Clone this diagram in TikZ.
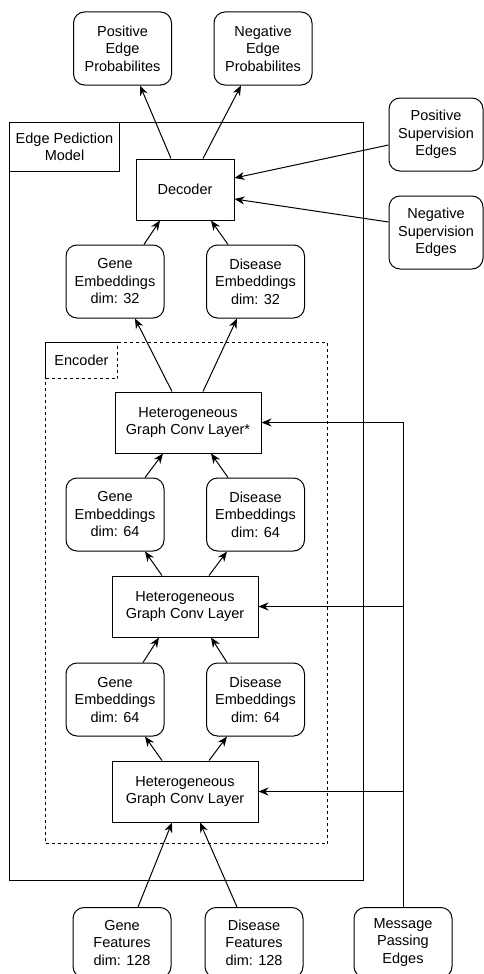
\documentclass[tikz,border=0pt]{standalone}
\usepackage{fontspec}
\setmainfont{Liberation Sans}
\usetikzlibrary{arrows.meta, positioning}

\begin{document}
\begin{tikzpicture}[
    x=1pt, y=1pt,
    font=\fontsize{14.5pt}{17.5pt}\selectfont,
    node distance=24pt,
    box/.style={draw, rounded corners=11pt, minimum width=98pt, minimum height=73pt, align=center, inner sep=0pt},
    layer/.style={draw, rectangle, minimum height=61pt, align=center, inner sep=0pt},
    frame/.style={draw, rectangle, anchor=north west, inner sep=0pt},
    tag/.style={draw, rectangle, anchor=north west, align=center, inner sep=0pt},
    arrow/.style={-{Stealth[length=10pt, width=8pt]}, line width=1pt}
]
    \useasboundingbox (0,0) rectangle (483,-974);

    % Frames
    \node[frame, line width=1pt, minimum width=354pt, minimum height=758pt] (model) at (9,-122) {};
    \node[tag, line width=1pt, minimum width=110pt, minimum height=49pt] (modeltag) at (model.north west) {Edge Pediction\\Model};
    \node[frame, dashed, line width=1pt, minimum width=282pt, minimum height=501pt] (encoder) at (45,-342) {};
    \node[tag, dashed, line width=1pt, minimum width=72pt, minimum height=36pt] (encodertag) at (encoder.north west) {Encoder};

    % Decoder and outputs
    \node[layer, line width=1pt, minimum width=98pt] (decoder) at (185,-189.5) {Decoder};
    \node[box, line width=1pt, above=73pt of decoder, xshift=-62.5pt] (posprob) {Positive\\Edge\\Probabilites};
    \node[box, line width=1pt, above=73pt of decoder, xshift=78pt] (negprob) {Negative\\Edge\\Probabilites};
    \node[box, line width=1pt, minimum width=94pt, right=154pt of decoder, yshift=55pt] (possup) {Positive\\Supervision\\Edges};
    \node[box, line width=1pt, minimum width=94pt, right=154pt of decoder, yshift=-43pt] (negsup) {Negative\\Supervision\\Edges};

    % Embeddings dim 32
    \node[box, line width=1pt, below=24pt of decoder, xshift=-70pt] (gene32) {Gene\\Embeddings\\dim: 32};
    \node[box, line width=1pt, below=24pt of decoder, xshift=70.5pt] (dis32) {Disease\\Embeddings\\dim: 32};

    % Encoder layers
    \node[layer, line width=1pt, minimum width=146pt, below=171pt of decoder, xshift=3pt] (hgc3) {Heterogeneous\\Graph Conv Layer*};
    \node[layer, line width=1pt, minimum width=146pt, below=122pt of hgc3, xshift=-3pt] (hgc2) {Heterogeneous\\Graph Conv Layer};
    \node[layer, line width=1pt, minimum width=146pt, below=123pt of hgc2] (hgc1) {Heterogeneous\\Graph Conv Layer};

    % Embeddings dim 64
    \node[box, line width=1pt, above=24pt of hgc2, xshift=-70pt] (gene64a) {Gene\\Embeddings\\dim: 64};
    \node[box, line width=1pt, above=24pt of hgc2, xshift=70.5pt] (dis64a) {Disease\\Embeddings\\dim: 64};
    \node[box, line width=1pt, below=25pt of hgc2, xshift=-70pt] (gene64b) {Gene\\Embeddings\\dim: 64};
    \node[box, line width=1pt, below=25pt of hgc2, xshift=70.5pt] (dis64b) {Disease\\Embeddings\\dim: 64};

    % Inputs
    \node[box, line width=1pt, minimum height=70pt, below=84.5pt of hgc1, xshift=-63pt] (genefeat) {Gene\\Features\\dim: 128};
    \node[box, line width=1pt, minimum height=70pt, below=84.5pt of hgc1, xshift=69pt] (disfeat) {Disease\\Features\\dim: 128};
    \node[box, line width=1pt, minimum height=70pt, right=50pt of disfeat] (msgedges) {Message\\Passing\\Edges};

    % Connectors
    \draw[arrow] ([xshift=-14pt]decoder.north) -- ([xshift=17.5pt]posprob.south);
    \draw[arrow] ([xshift=18pt]decoder.north) -- ([xshift=-22pt]negprob.south);
    \draw[arrow] ([yshift=-10.5pt]possup.west) -- ([yshift=11.5pt]decoder.east);
    \draw[arrow] ([yshift=10.5pt]negsup.west) -- ([yshift=-9.5pt]decoder.east);
    \draw[arrow] ([xshift=29pt]gene32.north) -- ([xshift=-25pt]decoder.south);
    \draw[arrow] ([xshift=-27.5pt]dis32.north) -- ([xshift=26pt]decoder.south);
    \draw[arrow] ([xshift=-16pt]hgc3.north) -- ([xshift=20pt]gene32.south);
    \draw[arrow] ([xshift=15pt]hgc3.north) -- ([xshift=-18.5pt]dis32.south);
    \draw[arrow] ([xshift=30pt]gene64a.north) -- ([xshift=-25pt]hgc3.south);
    \draw[arrow] ([xshift=-27.5pt]dis64a.north) -- ([xshift=23pt]hgc3.south);
    \draw[arrow] ([xshift=-23pt]hgc2.north) -- ([xshift=30pt]gene64a.south);
    \draw[arrow] ([xshift=24pt]hgc2.north) -- ([xshift=-28.5pt]dis64a.south);
    \draw[arrow] ([xshift=28pt]gene64b.north) -- ([xshift=-26pt]hgc2.south);
    \draw[arrow] ([xshift=-28.5pt]dis64b.north) -- ([xshift=26pt]hgc2.south);
    \draw[arrow] ([xshift=-23pt]hgc1.north) -- ([xshift=30pt]gene64b.south);
    \draw[arrow] ([xshift=24pt]hgc1.north) -- ([xshift=-28.5pt]dis64b.south);
    \draw[arrow] ([xshift=16pt]genefeat.north) -- ([xshift=-13pt]hgc1.south);
    \draw[arrow] ([xshift=-17pt]disfeat.north) -- ([xshift=15pt]hgc1.south);
    \draw[arrow] (msgedges.north) |- (hgc3.east);
    \draw[arrow] (msgedges.north) |- (hgc2.east);
    \draw[arrow] (msgedges.north) |- (hgc1.east);
\end{tikzpicture}
\end{document}
